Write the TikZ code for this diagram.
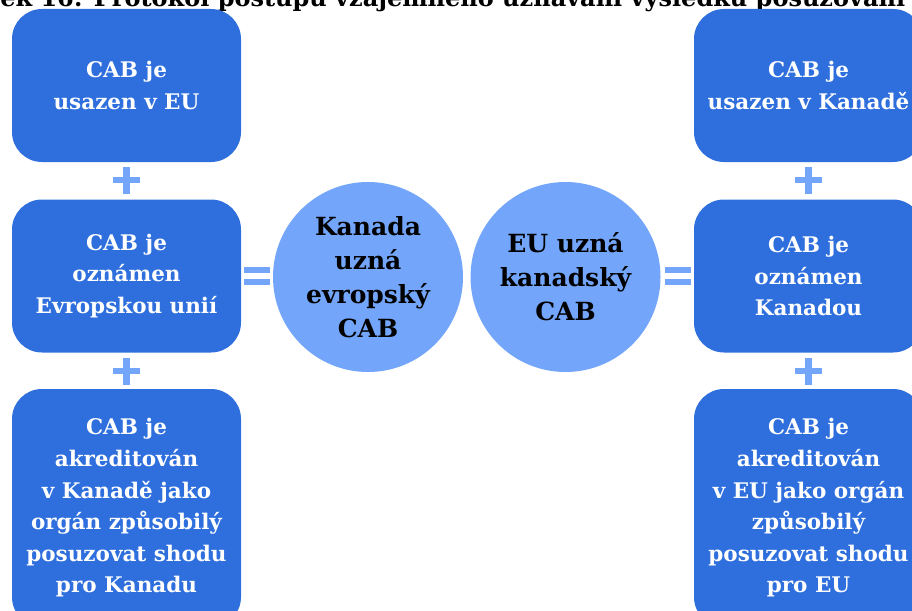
\documentclass[tikz,border=0pt]{standalone}
\usepackage{fontspec}
\setmainfont{DejaVu Serif}
\usepackage{tikz}

\definecolor{cabblue}{HTML}{2E6FDD}
\definecolor{lightcab}{HTML}{73A6FA}

\begin{document}
\begin{tikzpicture}[x=1pt,y=-1pt,
  cab/.style={fill=cabblue, rounded corners=30pt, minimum width=229pt, minimum height=153pt, inner sep=0pt,
    text=white, align=center, font=\bfseries\fontsize{21.5}{31.6}\selectfont},
  uzna/.style={circle, fill=lightcab, minimum size=190pt, inner sep=0pt,
    align=center, font=\bfseries\fontsize{25}{34}\selectfont},
  sign/.style={fill=lightcab}]
\clip (0,0) rectangle (912,610);

% title, cut by the page edge
\node[anchor=base, font=\bfseries\fontsize{24}{28}\selectfont] (titul) at (456,7) {Obrázek 16: Protokol postupu vzájemného uznávání výsledků posuzování shody};

% left column
\node[cab] (eu1) at (126.5,85.5) {CAB je\\usazen v EU};
\node[cab] (eu2) at (126.5,276) {CAB je\\oznámen\\Evropskou unií};
\node[cab, minimum height=238pt] (eu3) at (126.5,508) {CAB je\\akreditován\\v Kanadě jako\\orgán způsobilý\\posuzovat shodu\\pro Kanadu};

% right column
\node[cab] (ca1) at (808.5,85.5) {CAB je\\usazen v Kanadě};
\node[cab] (ca2) at (808.5,276) {CAB je\\oznámen\\Kanadou};
\node[cab, minimum height=238pt] (ca3) at (808.5,508) {CAB je\\akreditován\\v EU jako orgán\\způsobilý\\posuzovat shodu\\pro EU};

% middle
\node[uzna] (kanada) at (368,277) {Kanada\\uzná\\evropský\\CAB};
\node[uzna] (unie) at (565.5,277) {EU uzná\\kanadský\\CAB};

% plus signs
\foreach \x/\y in {126.5/180, 126.5/371, 808.5/180, 808.5/371} {
  \fill[sign] (\x-13.5,\y-3.25) rectangle (\x+13.5,\y+3.25);
  \fill[sign] (\x-3.25,\y-13.5) rectangle (\x+3.25,\y+13.5);
}

% equals signs
\foreach \x in {257, 677.5} {
  \fill[sign] (\x-13,267) rectangle (\x+13,273);
  \fill[sign] (\x-13,279) rectangle (\x+13,285);
}

\end{tikzpicture}
\end{document}
